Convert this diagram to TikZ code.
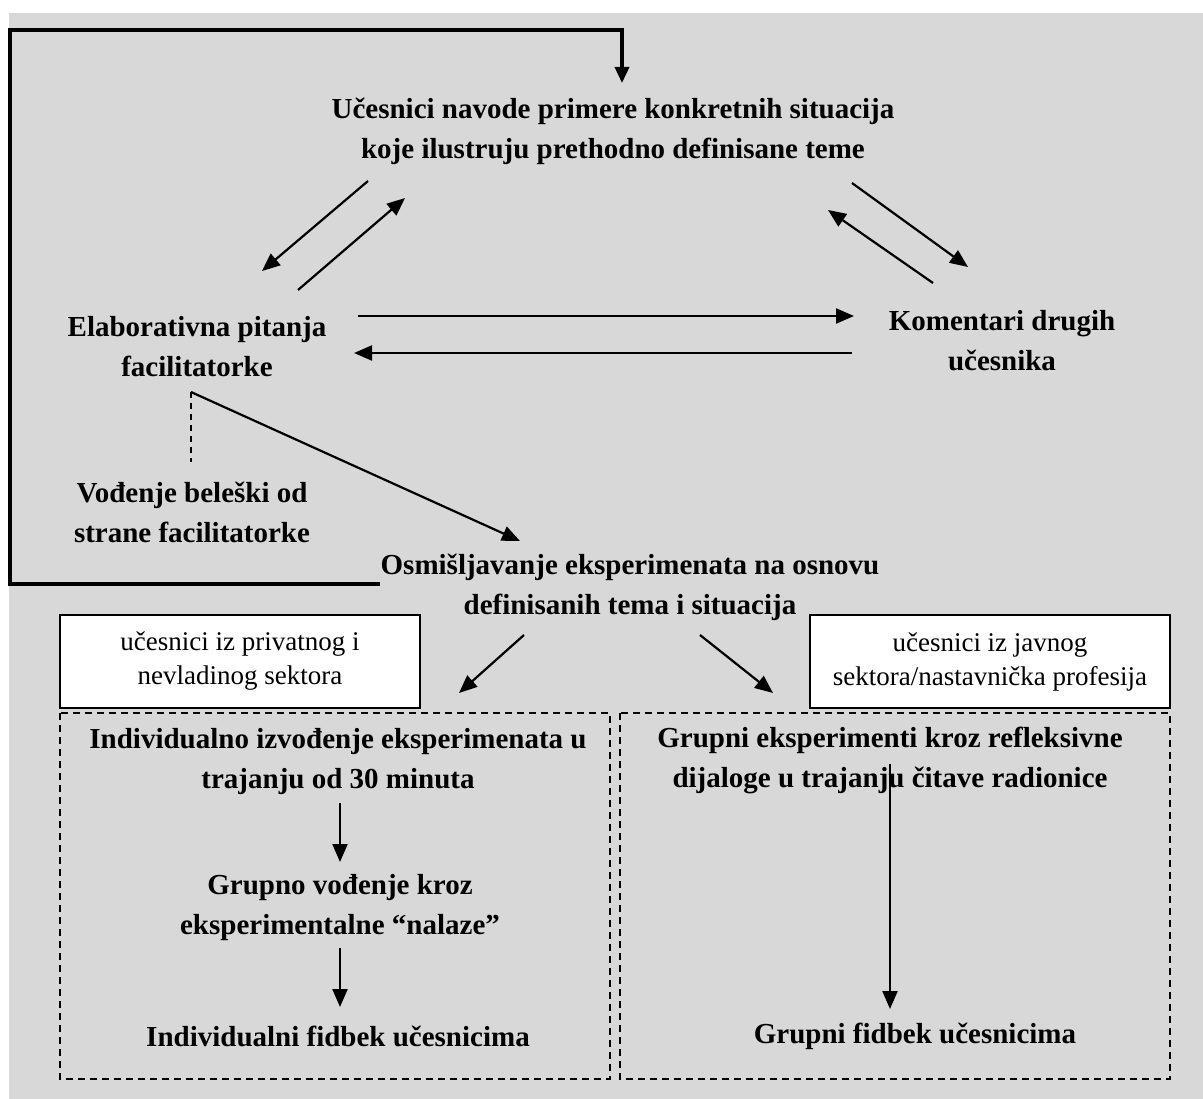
\documentclass[tikz,border=0pt]{standalone}
\usepackage{fontspec}
\setmainfont{Liberation Serif}
\usetikzlibrary{arrows.meta}
\definecolor{panel}{HTML}{D8D8D8}
\tikzset{
  lbl/.style={font=\fontsize{29}{40}\selectfont\bfseries, align=center, inner sep=0pt},
  tag/.style={draw, line width=1.6pt, fill=white, minimum width=360pt, minimum height=93pt,
              align=center, font=\fontsize{27}{34}\selectfont, inner sep=0pt},
  grp/.style={draw, line width=1.5pt, dash pattern=on 7pt off 5pt},
  flow/.style={line width=2.2pt, -{Triangle[length=18pt,width=15pt]}},
  loopline/.style={line width=3.5pt, -{Triangle[length=16pt,width=14pt]}},
  note/.style={line width=1.5pt, dash pattern=on 6pt off 5pt},
}
\begin{document}
\begin{tikzpicture}[x=1pt,y=-1pt]
  \useasboundingbox (0,0) rectangle (1203,1099);
  \fill[white] (0,0) rectangle (1203,1099);
  \fill[panel] (9,13) rectangle (1203,1099);

  % lower groups
  \draw[grp] (60,713) rectangle (610,1079);
  \draw[grp] (620,713) rectangle (1170,1079);

  % main statements
  \node[lbl] (A) at (613,131) {Učesnici navode primere konkretnih situacija\\koje ilustruju prethodno definisane teme};
  \node[lbl] (B) at (197,347) {Elaborativna pitanja\\facilitatorke};
  \node[lbl] (C) at (1002,341) {Komentari drugih\\učesnika};
  \node[lbl] (D) at (192,512) {Vođenje beleški od\\strane facilitatorke};
  \node[lbl] (E) at (630,587) {Osmišljavanje eksperimenata na osnovu\\definisanih tema i situacija};

  \node[tag] (F) at (240,661.5) {učesnici iz privatnog i\\nevladinog sektora};
  \node[tag] (G) at (990,661.5) {učesnici iz javnog\\sektora/nastavnička profesija};

  \node[lbl] (H1) at (338,762) {Individualno izvođenje eksperimenata u\\trajanju od 30 minuta};
  \node[lbl] (H2) at (340,908) {Grupno vođenje kroz\\eksperimentalne “nalaze”};
  \node[lbl] (H3) at (338,1036) {Individualni fidbek učesnicima};
  \node[lbl] (I1) at (890,760) {Grupni eksperimenti kroz refleksivne\\dijaloge u trajanju čitave radionice};
  \node[lbl] (I2) at (915,1036) {Grupni fidbek učesnicima};

  % connector end points
  \coordinate (ab1) at (368,181); \coordinate (ab2) at (262,271);
  \coordinate (ba1) at (298,290); \coordinate (ba2) at (405,198);
  \coordinate (ac1) at (852,183); \coordinate (ac2) at (968,267);
  \coordinate (ca1) at (933,283); \coordinate (ca2) at (828,210);
  \coordinate (bc1) at (358,316); \coordinate (bc2) at (854,316);
  \coordinate (cb1) at (852,353); \coordinate (cb2) at (354,353);
  \coordinate (be1) at (191,392); \coordinate (be2) at (520,541);
  \coordinate (bd2) at (191,462);
  \coordinate (ef1) at (524,635); \coordinate (ef2) at (459,693);
  \coordinate (eg1) at (700,635); \coordinate (eg2) at (773,693);
  \coordinate (h12a) at (340,803); \coordinate (h12b) at (340,862);
  \coordinate (h23a) at (340,948); \coordinate (h23b) at (340,1007);
  \coordinate (i12a) at (890,764); \coordinate (i12b) at (890,1009);
  \coordinate (lp1) at (378,584); \coordinate (lp2) at (10,30); \coordinate (lp3) at (622,83);

  % connectors
  \draw[flow] (ab1) -- (ab2);
  \draw[flow] (ba1) -- (ba2);
  \draw[flow] (ac1) -- (ac2);
  \draw[flow] (ca1) -- (ca2);
  \draw[flow] (bc1) -- (bc2);
  \draw[flow] (cb1) -- (cb2);
  \draw[flow] (be1) -- (be2);
  \draw[note] (be1) -- (bd2);
  \draw[flow] (ef1) -- (ef2);
  \draw[flow] (eg1) -- (eg2);
  \draw[flow] (h12a) -- (h12b);
  \draw[flow] (h23a) -- (h23b);
  \draw[flow] (i12a) -- (i12b);

  % feedback loop back to the first statement
  \draw[loopline, line cap=rect] (lp1) -| (lp2) -| (lp3);
\end{tikzpicture}
\end{document}
